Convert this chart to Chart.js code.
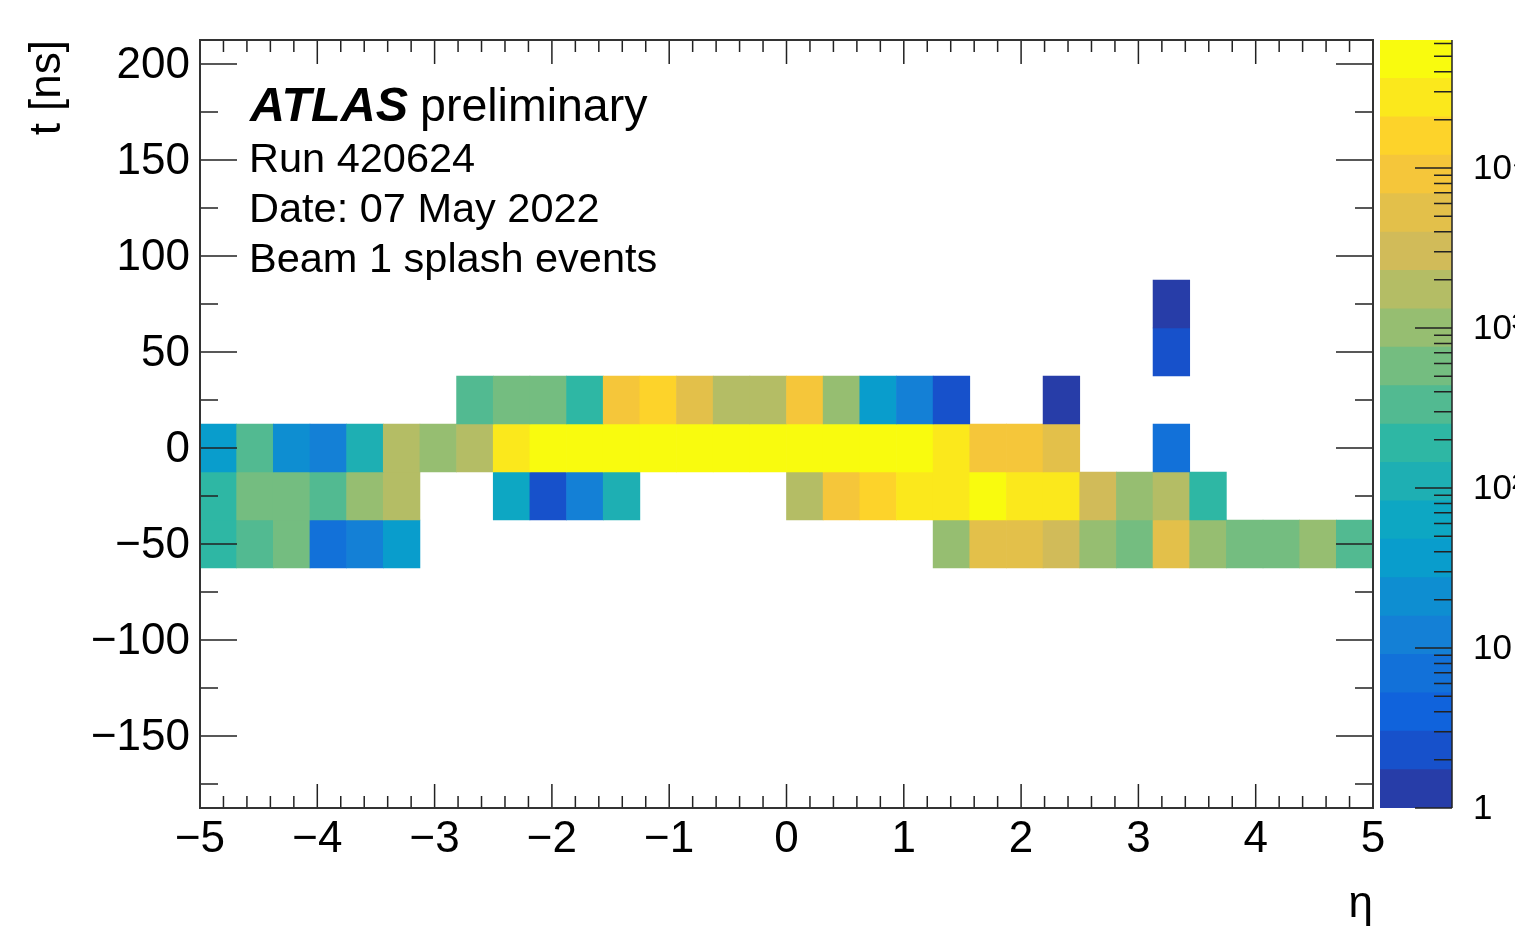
<!DOCTYPE html>
<html>
<head>
<meta charset="utf-8">
<script src="https://cdn.jsdelivr.net/npm/chart.js@4.4.0/dist/chart.umd.min.js"></script>
<style>
  body { margin: 0; background: #fff; }
  #wrap { position: relative; width: 1515px; height: 937px; overflow: hidden; }
  #myChart { position: absolute; left: 0; top: 0; }
  #colorBar { position: absolute; left: 1375px; top: 0; }
</style>
</head>
<body>
<div id="wrap">
  <canvas id="myChart" width="1400" height="937"></canvas>
  <canvas id="colorBar" width="140" height="937"></canvas>
</div>
<script>
const n = null;

// eta bin centres (32 bins of 0.3125)
const etaBins = [-4.84375, -4.53125, -4.21875, -3.90625, -3.59375, -3.28125, -2.96875, -2.65625,
  -2.34375, -2.03125, -1.71875, -1.40625, -1.09375, -0.78125, -0.46875, -0.15625,
  0.15625, 0.46875, 0.78125, 1.09375, 1.40625, 1.71875, 2.03125, 2.34375,
  2.65625, 2.96875, 3.28125, 3.59375, 3.90625, 4.21875, 4.53125, 4.84375];

// time bin centres [ns], each 25 ns wide
const tBins = [75, 50, 25, 0, -25, -50];
const tWidth = 25;

// entries per cell, one array per time bin (null = empty)
const countsT75 = [n, n, n, n, n, n, n, n, n, n, n, n, n, n, n, n,
  n, n, n, n, n, n, n, n, n, n, 1, n, n, n, n, n];
const countsT50 = [n, n, n, n, n, n, n, n, n, n, n, n, n, n, n, n,
  n, n, n, n, n, n, n, n, n, n, 2, n, n, n, n, n];
const countsT25 = [n, n, n, n, n, n, n, 330, 580, 600, 190, 9100, 15800, 5200, 1750, 1700,
  9000, 1000, 40, 13, 2, n, n, 1, n, n, n, n, n, n, n, n];
const countsT0 = [36, 330, 21, 12, 110, 1800, 1000, 1700, 28000, 47000, 52000, 55000, 58000, 60000, 63000, 61000,
  57000, 53000, 48000, 42000, 26000, 9000, 8500, 5000, n, n, 7, n, n, n, n, n];
const countsTm25 = [190, 580, 560, 320, 1000, 1700, n, n, 60, 2, 12, 110, n, n, n, n,
  1750, 9000, 16000, 27000, 28000, 42000, 30000, 29000, 3000, 1000, 1800, 190, n, n, n, n];
const countsTm50 = [160, 320, 580, 7, 12, 45, n, n, n, n, n, n, n, n, n, n,
  n, n, n, n, 1000, 5100, 5300, 3200, 1000, 600, 4800, 950, 560, 590, 1050, 320];

const xTicks = [-5, -4, -3, -2, -1, 0, 1, 2, 3, 4, 5];
const yTicks = [-150, -100, -50, 0, 50, 100, 150, 200];
const zTicks = [1, 10, 100, 1000, 10000];
const zTickLabels = ["1", "10", "10²", "10³", "10⁴"];
const infoLines = ["Run 420624", "Date: 07 May 2022", "Beam 1 splash events"];

const zMin = 1;
const zMax = 63096;
const nBands = 20;
const family = '"Liberation Sans", Arial, Helvetica, sans-serif';

// ROOT kBird palette
const birdStops = [0, 0.125, 0.25, 0.375, 0.5, 0.625, 0.75, 0.875, 1];
const birdR = [0.2082, 0.0592, 0.0780, 0.0232, 0.1802, 0.5301, 0.8186, 0.9956, 0.9764];
const birdG = [0.1664, 0.3599, 0.5041, 0.6419, 0.7178, 0.7492, 0.7328, 0.7862, 0.9832];
const birdB = [0.5293, 0.8684, 0.8385, 0.7914, 0.6425, 0.4662, 0.3499, 0.1968, 0.0539];

function birdColour(f) {
  let k = 0;
  while (k < birdStops.length - 2 && f > birdStops[k + 1]) k++;
  const t = (f - birdStops[k]) / (birdStops[k + 1] - birdStops[k]);
  const c = (arr) => Math.round(255 * (arr[k] + (arr[k + 1] - arr[k]) * t));
  return `rgb(${c(birdR)}, ${c(birdG)}, ${c(birdB)})`;
}

const bandColour = (i) => birdColour(Math.floor((i + 0.99) * 255 / nBands) / 254);

function bandOf(v) {
  const b = Math.floor(0.01 + Math.log10(v / zMin) / Math.log10(zMax / zMin) * nBands);
  return Math.max(0, Math.min(nBands - 1, b));
}

const fmt = (v) => (v < 0 ? "\u2212" + Math.abs(v) : String(v));

const rows = [countsT75, countsT50, countsT25, countsT0, countsTm25, countsTm50];

const datasets = rows.map((row, r) => ({
  label: "t = " + tBins[r],
  data: row
    .map((v, c) => (v === null ? null : { x: etaBins[c], y: [tBins[r] - tWidth / 2, tBins[r] + tWidth / 2], v: v }))
    .filter((d) => d !== null),
  backgroundColor: (ctx) => (ctx.raw ? bandColour(bandOf(ctx.raw.v)) : "#fff"),
  borderWidth: 0,
  grouped: false,
  barPercentage: 1,
  categoryPercentage: 1,
}));

// ROOT style frame with inside ticks
const rootFrame = {
  id: "rootFrame",
  afterDatasetsDraw(chart) {
    const { ctx, chartArea: a, scales: { x, y } } = chart;
    ctx.save();
    ctx.strokeStyle = "#222";
    ctx.lineWidth = 1.5;
    ctx.beginPath();
    for (let k = 0; k <= 50; k++) {
      const px = x.getPixelForValue(-5 + k * 0.2);
      const len = k % 5 === 0 ? 24 : 12;
      ctx.moveTo(px, a.bottom); ctx.lineTo(px, a.bottom - len);
      ctx.moveTo(px, a.top); ctx.lineTo(px, a.top + len);
    }
    for (let v = -175; v <= 200; v += 25) {
      const py = y.getPixelForValue(v);
      const len = v % 50 === 0 ? 37 : 18;
      ctx.moveTo(a.left, py); ctx.lineTo(a.left + len, py);
      ctx.moveTo(a.right, py); ctx.lineTo(a.right - len, py);
    }
    ctx.stroke();
    ctx.strokeStyle = "#333";
    ctx.lineWidth = 2;
    ctx.strokeRect(a.left, a.top, a.right - a.left, a.bottom - a.top);
    ctx.restore();
  },
};

const atlasText = {
  id: "atlasText",
  afterDraw(chart) {
    const { ctx } = chart;
    ctx.save();
    ctx.fillStyle = "#000";
    ctx.textBaseline = "alphabetic";
    ctx.font = "italic bold 48.5px " + family;
    ctx.fillText("ATLAS", 250, 121);
    const w = ctx.measureText("ATLAS").width;
    ctx.font = "46.5px " + family;
    ctx.fillText("preliminary", 250 + w + 12, 121);
    ctx.font = "41.5px " + family;
    infoLines.forEach((t, i) => ctx.fillText(t, 249, 172 + i * 50));
    ctx.restore();
  },
};

const myChart = document.getElementById("myChart");

new Chart(myChart, {
  type: "bar",
  data: { datasets: datasets },
  options: {
    responsive: false,
    animation: false,
    layout: { padding: { top: 40, right: 27, left: 0, bottom: 0 } },
    plugins: { legend: { display: false }, tooltip: { enabled: false } },
    scales: {
      x: {
        type: "linear",
        min: -5,
        max: 5,
        offset: false,
        grid: { display: false, drawTicks: false },
        border: { display: false },
        afterBuildTicks: (s) => { s.ticks = xTicks.map((value) => ({ value })); },
        afterFit: (s) => { s.height = 129; s.paddingLeft = 0; s.paddingRight = 0; },
        ticks: { font: { size: 44, family }, color: "#000", padding: 5, maxRotation: 0, autoSkip: false, callback: fmt },
        title: { display: true, text: "η", align: "end", color: "#000", font: { size: 44, family }, padding: { top: 0, bottom: 6 } },
      },
      y: {
        type: "linear",
        min: -187.5,
        max: 212.5,
        grid: { display: false, drawTicks: false },
        border: { display: false },
        afterBuildTicks: (s) => { s.ticks = yTicks.map((value) => ({ value })); },
        afterFit: (s) => { s.width = 200; s.paddingTop = 0; s.paddingBottom = 0; },
        ticks: { font: { size: 44, family }, color: "#000", padding: 10, labelOffset: 2, autoSkip: false, callback: fmt },
        title: { display: true, text: "t [ns]", align: "end", color: "#000", font: { size: 44, family }, padding: { top: 21, bottom: 0 } },
      },
    },
  },
  plugins: [rootFrame, atlasText],
});

// colour bar: 20 log bands drawn as floating bars
const bandEdges = [];
for (let i = 0; i <= nBands; i++) bandEdges.push(zMin * Math.pow(zMax / zMin, i / nBands));

const zAxisTicks = {
  id: "zAxisTicks",
  afterDatasetsDraw(chart) {
    const { ctx, chartArea: a, scales: { y } } = chart;
    ctx.save();
    ctx.strokeStyle = "#222";
    ctx.lineWidth = 1.5;
    ctx.beginPath();
    ctx.moveTo(a.right, a.top); ctx.lineTo(a.right, a.bottom);
    for (let d = 1; d <= 10000; d *= 10) {
      for (let m = 1; m <= 9; m++) {
        const v = d * m;
        if (v > zMax) break;
        const py = y.getPixelForValue(v);
        const len = m === 1 ? 37 : 18;
        ctx.moveTo(a.right, py); ctx.lineTo(a.right - len, py);
      }
    }
    ctx.stroke();
    ctx.restore();
  },
};

new Chart(document.getElementById("colorBar"), {
  type: "bar",
  data: {
    labels: [""],
    datasets: bandEdges.slice(0, nBands).map((lo, i) => ({
      data: [[lo, bandEdges[i + 1]]],
      backgroundColor: bandColour(i),
      borderWidth: 0,
      grouped: false,
      barPercentage: 1,
      categoryPercentage: 1,
    })),
  },
  options: {
    responsive: false,
    animation: false,
    layout: { padding: { top: 40, bottom: 129, left: 5, right: 0 } },
    plugins: { legend: { display: false }, tooltip: { enabled: false } },
    scales: {
      x: { display: false },
      y: {
        type: "logarithmic",
        position: "right",
        min: zMin,
        max: zMax,
        grid: { display: false, drawTicks: false },
        border: { display: false },
        afterBuildTicks: (s) => { s.ticks = zTicks.map((value) => ({ value })); },
        afterFit: (s) => { s.width = 63; s.paddingTop = 0; s.paddingBottom = 0; },
        ticks: { font: { size: 35, family }, color: "#000", padding: 21, labelOffset: 1, autoSkip: false,
          callback: (v, i) => zTickLabels[i] },
      },
    },
  },
  plugins: [zAxisTicks],
});
</script>
</body>
</html>
